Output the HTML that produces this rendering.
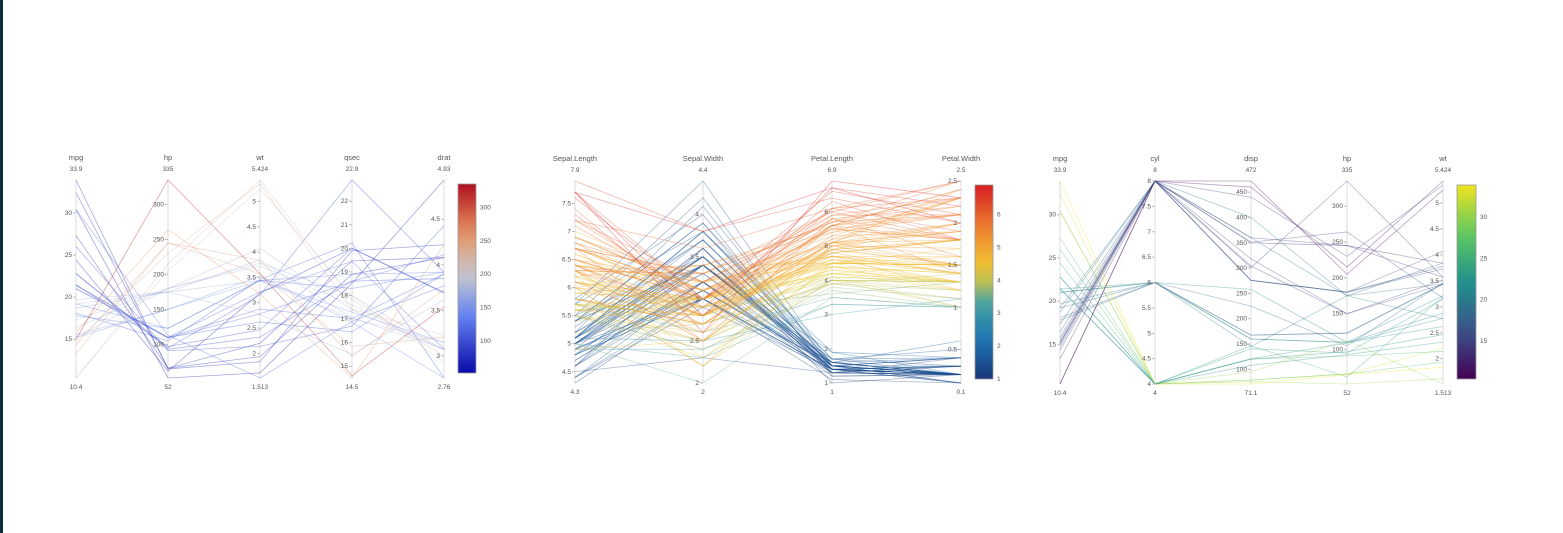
<!DOCTYPE html>
<html><head><meta charset="utf-8"><style>
html,body{margin:0;padding:0;background:#fff;width:1563px;height:533px;overflow:hidden}
#bar{position:absolute;left:0;top:0;width:3px;height:533px;background:#0b2d3d}
svg{position:absolute;left:0;top:0}
text{font-family:"Liberation Sans",sans-serif;fill:#555}
</style></head><body><div id="bar"></div>
<svg id="s" width="1563" height="533" xmlns="http://www.w3.org/2000/svg"></svg>
<script>
const mt=`21 6 160 110 3.90 2.620 16.46
21 6 160 110 3.90 2.875 17.02
22.8 4 108 93 3.85 2.320 18.61
21.4 6 258 110 3.08 3.215 19.44
18.7 8 360 175 3.15 3.440 17.02
18.1 6 225 105 2.76 3.460 20.22
14.3 8 360 245 3.21 3.570 15.84
24.4 4 146.7 62 3.69 3.190 20.00
22.8 4 140.8 95 3.92 3.150 22.90
19.2 6 167.6 123 3.92 3.440 18.30
17.8 6 167.6 123 3.92 3.440 18.90
16.4 8 275.8 180 3.07 4.070 17.40
17.3 8 275.8 180 3.07 3.730 17.60
15.2 8 275.8 180 3.07 3.780 18.00
10.4 8 472 205 2.93 5.250 17.98
10.4 8 460 215 3.00 5.424 17.82
14.7 8 440 230 3.23 5.345 17.42
32.4 4 78.7 66 4.08 2.200 19.47
30.4 4 75.7 52 4.93 1.615 18.52
33.9 4 71.1 65 4.22 1.835 19.90
21.5 4 120.1 97 3.70 2.465 20.01
15.5 8 318 150 2.76 3.520 16.87
15.2 8 304 150 3.15 3.435 17.30
13.3 8 350 245 3.73 3.840 15.41
19.2 8 400 175 3.08 3.845 17.05
27.3 4 79 66 4.08 1.935 18.90
26 4 120.3 91 4.43 2.140 16.70
30.4 4 95.1 113 3.77 1.513 16.90
15.8 8 351 264 4.22 3.170 14.50
19.7 6 145 175 3.62 2.770 15.50
15 8 301 335 3.54 3.570 14.60
21.4 4 121 109 4.11 2.780 18.60`.split('\n').map(l=>l.trim().split(/\s+/).map(Number));
const ir=`51 35 14 2,49 30 14 2,47 32 13 2,46 31 15 2,50 36 14 2,54 39 17 4,46 34 14 3,50 34 15 2,44 29 14 2,49 31 15 1,54 37 15 2,48 34 16 2,48 30 14 1,43 30 11 1,58 40 12 2,57 44 15 4,54 39 13 4,51 35 14 3,57 38 17 3,51 38 15 3,54 34 17 2,51 37 15 4,46 36 10 2,51 33 17 5,48 34 19 2,50 30 16 2,50 34 16 4,52 35 15 2,52 34 14 2,47 32 16 2,48 31 16 2,54 34 15 4,52 41 15 1,55 42 14 2,49 31 15 2,50 32 12 2,55 35 13 2,49 36 14 1,44 30 13 2,51 34 15 2,50 35 13 3,45 23 13 3,44 32 13 2,50 35 16 6,51 38 19 4,48 30 14 3,51 38 16 2,46 32 14 2,53 37 15 2,50 33 14 2,70 32 47 14,64 32 45 15,69 31 49 15,55 23 40 13,65 28 46 15,57 28 45 13,63 33 47 16,49 24 33 10,66 29 46 13,52 27 39 14,50 20 35 10,59 30 42 15,60 22 40 10,61 29 47 14,56 29 36 13,67 31 44 14,56 30 45 15,58 27 41 10,62 22 45 15,56 25 39 11,59 32 48 18,61 28 40 13,63 25 49 15,61 28 47 12,64 29 43 13,66 30 44 14,68 28 48 14,67 30 50 17,60 29 45 15,57 26 35 10,55 24 38 11,55 24 37 10,58 27 39 12,60 27 51 16,54 30 45 15,60 34 45 16,67 31 47 15,63 23 44 13,56 30 41 13,55 25 40 13,55 26 44 12,61 30 46 14,58 26 40 12,50 23 33 10,56 27 42 13,57 30 42 12,57 29 42 13,62 29 43 13,51 25 30 11,57 28 41 13,63 33 60 25,58 27 51 19,71 30 59 21,63 29 56 18,65 30 58 22,76 30 66 21,49 25 45 17,73 29 63 18,67 25 58 18,72 36 61 25,65 32 51 20,64 27 53 19,68 30 55 21,57 25 50 20,58 28 51 24,64 32 53 23,65 30 55 18,77 38 67 22,77 26 69 23,60 22 50 15,69 32 57 23,56 28 49 20,77 28 67 20,63 27 49 18,67 33 57 21,72 32 60 18,62 28 48 18,61 30 49 18,64 28 56 21,72 30 58 16,74 28 61 19,79 38 64 20,64 28 56 22,63 28 51 15,61 26 56 14,77 30 61 23,63 34 56 24,64 31 55 18,60 30 48 18,69 31 54 21,67 31 56 24,69 31 51 23,58 27 51 19,68 32 59 23,67 33 57 25,67 30 52 23,63 25 50 19,65 30 52 20,62 34 54 23,59 30 51 18`.split(',').map(r=>r.split(' ').map(v=>v/10));
function lerpStops(st,t){t=Math.max(0,Math.min(1,t));for(let i=1;i<st.length;i++){if(t<=st[i][0]){const a=st[i-1],b=st[i],u=(t-a[0])/(b[0]-a[0]||1);const c=[1,2,3].map(k=>Math.round(a[k]+(b[k]-a[k])*u));return`rgb(${c})`}}const l=st[st.length-1];return`rgb(${l[1]},${l[2]},${l[3]})`}
const cw=[[0,10,10,170],[0.3,100,130,240],[0.52,200,200,205],[0.75,230,145,95],[1,175,15,30]];
const rb=[[0,25,55,120],[0.18,30,110,175],[0.38,60,160,170],[0.55,240,205,50],[0.75,240,140,50],[1,215,30,35]];
const vi=[[0,68,1,84],[0.25,59,82,139],[0.5,33,145,140],[0.75,94,201,98],[1,240,228,30]];
let h='';
const f=n=>+n.toFixed(3);
function chart(o){
 const {xs,top,bot,names,data,cols,ticks,cIdx,cmin,cmax,stops,cb,cbt,mins,maxs,minLab,maxLab}=o;
 const Y=(j,v)=>bot-(v-mins[j])/(maxs[j]-mins[j])*(bot-top);
 xs.forEach(x=>h+=`<line x1="${x}" y1="${top}" x2="${x}" y2="${bot}" stroke="#ddd" stroke-width="1"/>`);
 data.forEach(r=>{const c=lerpStops(stops,(r[cIdx]-cmin)/(cmax-cmin));h+=`<polyline fill="none" stroke="${c}" stroke-opacity="0.38" stroke-width="0.8" points="${cols.map((k,j)=>xs[j]+','+f(Y(j,r[k]))).join(' ')}"/>`});
 xs.forEach((x,j)=>{
  h+=`<text x="${x}" y="${top-20}" font-size="7.5" text-anchor="middle" fill="#333">${names[j]}</text>`;
  h+=`<text x="${x}" y="${top-9}" font-size="6.5" text-anchor="middle">${maxLab[j]}</text>`;
  h+=`<text x="${x}" y="${bot+11}" font-size="6.5" text-anchor="middle">${minLab[j]}</text>`;
  ticks[j].forEach(t=>{const y=Y(j,t);h+=`<line x1="${x-3}" x2="${x}" y1="${y}" y2="${y}" stroke="#bbb"/><text x="${x-4}" y="${y+2}" font-size="6.5" text-anchor="end">${t}</text>`});
 });
 const [cx,cy,cwid,ch]=cb;let g='';
 for(let i=0;i<=10;i++)g+=`<stop offset="${i/10}" stop-color="${lerpStops(stops,1-i/10)}"/>`;
 const id='g'+xs[0];h+=`<defs><linearGradient id="${id}" x1="0" y1="0" x2="0" y2="1">${g}</linearGradient></defs><rect x="${cx}" y="${cy}" width="${cwid}" height="${ch}" fill="url(#${id})" stroke="#999" stroke-width="0.8"/>`;
 cbt.forEach(t=>{const y=cy+ch-(t-cmin)/(cmax-cmin)*ch;h+=`<text x="${cx+cwid+4}" y="${y+2}" font-size="6.5">${t}</text>`});
}
chart({xs:[76,168,260,352,444],top:180,bot:378,names:['mpg','hp','wt','qsec','drat'],data:mt,cols:[0,3,5,6,4],
 mins:[10.4,52,1.513,14.5,2.76],maxs:[33.9,335,5.424,22.9,4.93],minLab:['10.4','52','1.513','14.5','2.76'],maxLab:['33.9','335','5.424','22.9','4.93'],
 ticks:[[15,20,25,30],[100,150,200,250,300],[2,2.5,3,3.5,4,4.5,5],[15,16,17,18,19,20,21,22],[3,3.5,4,4.5]],
 cIdx:3,cmin:52,cmax:335,stops:cw,cb:[458,184,18,189],cbt:[100,150,200,250,300]});
chart({xs:[575,703,832,961],top:181,bot:383,names:['Sepal.Length','Sepal.Width','Petal.Length','Petal.Width'],data:ir,cols:[0,1,2,3],
 mins:[4.3,2,1,0.1],maxs:[7.9,4.4,6.9,2.5],minLab:['4.3','2','1','0.1'],maxLab:['7.9','4.4','6.9','2.5'],
 ticks:[[4.5,5,5.5,6,6.5,7,7.5],[2,2.5,3,3.5,4],[1,2,3,4,5,6],[0.5,1,1.5,2,2.5]],
 cIdx:2,cmin:1,cmax:6.9,stops:rb,cb:[975,185,18,194],cbt:[1,2,3,4,5,6]});
chart({xs:[1060,1155,1251,1347,1443],top:181,bot:384,names:['mpg','cyl','disp','hp','wt'],data:mt,cols:[0,1,2,3,5],
 mins:[10.4,4,71.1,52,1.513],maxs:[33.9,8,472,335,5.424],minLab:['10.4','4','71.1','52','1.513'],maxLab:['33.9','8','472','335','5.424'],
 ticks:[[15,20,25,30],[4,4.5,5,5.5,6,6.5,7,7.5,8],[100,150,200,250,300,350,400,450],[100,150,200,250,300],[2,2.5,3,3.5,4,4.5,5]],
 cIdx:0,cmin:10.4,cmax:33.9,stops:vi,cb:[1457,185,19,194],cbt:[15,20,25,30]});
document.getElementById('s').innerHTML=h;
</script></body></html>
